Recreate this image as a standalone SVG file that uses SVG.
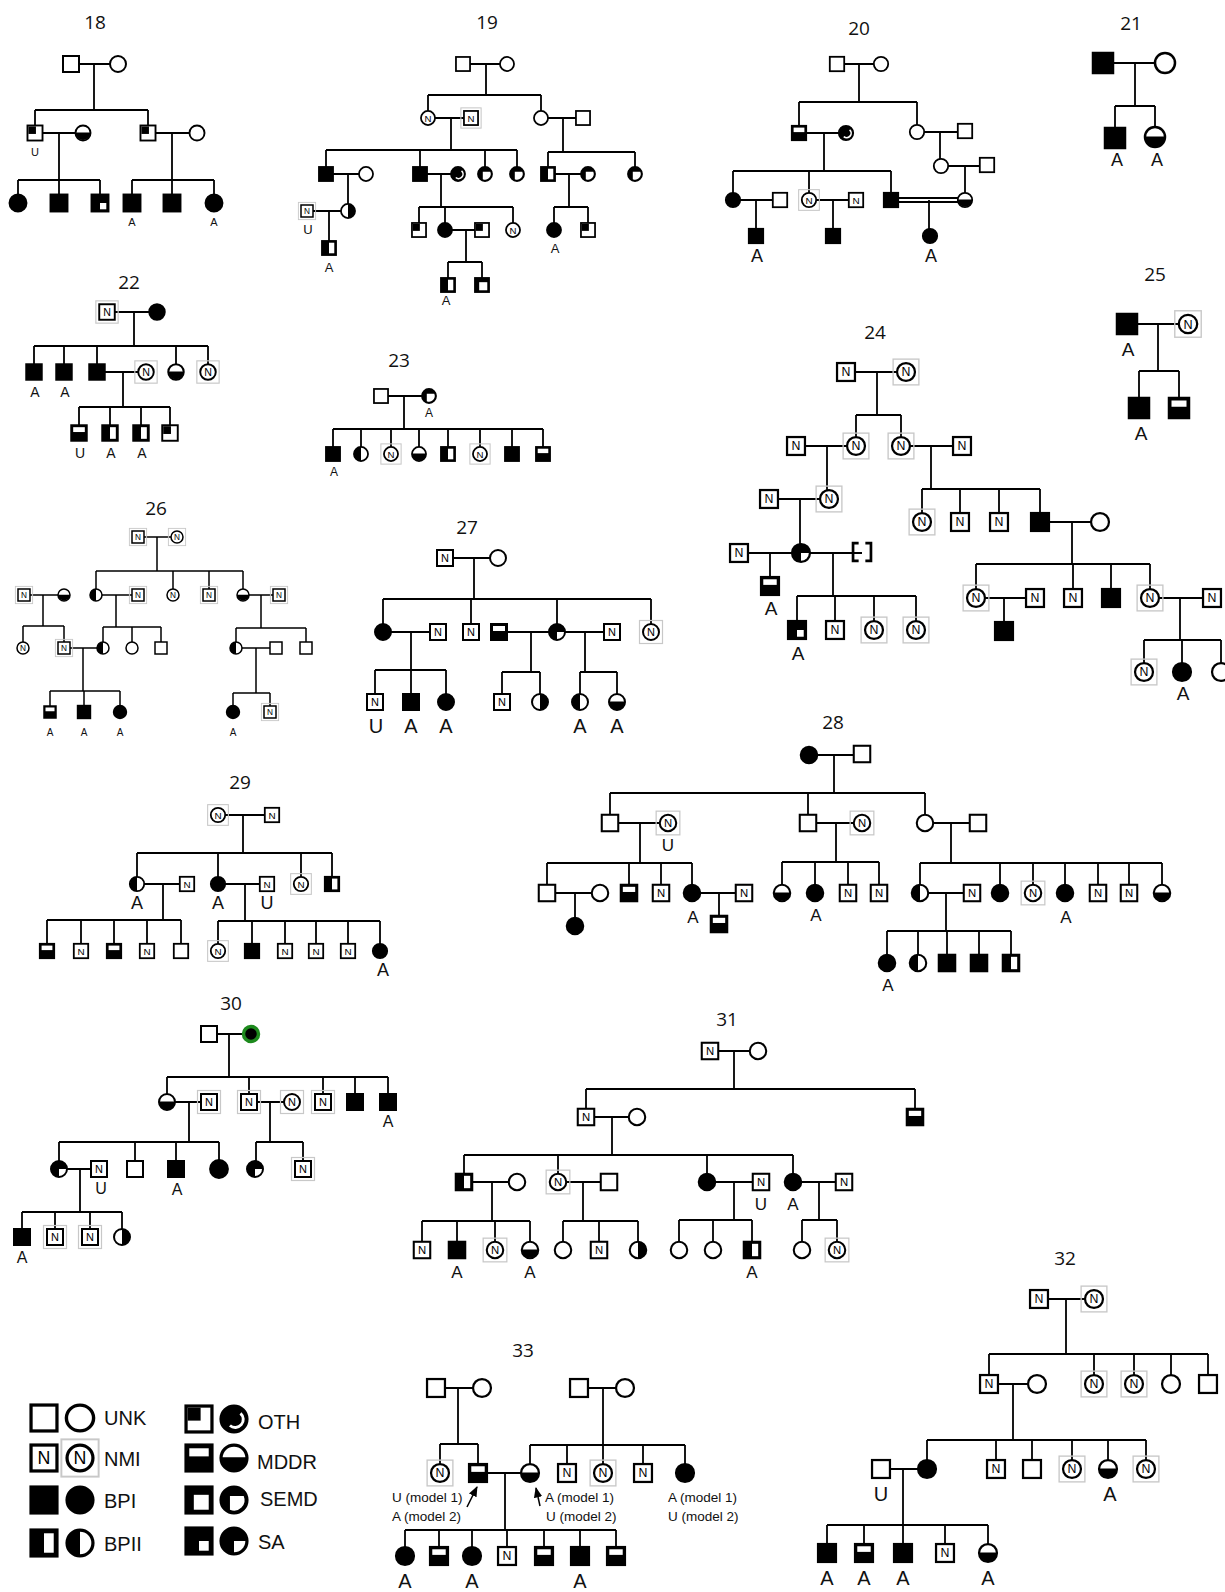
<svg xmlns="http://www.w3.org/2000/svg" width="1225" height="1592" viewBox="0 0 1225 1592">
<style>
.ln{fill:none;stroke:#000;stroke-width:1.8}
.num{font-family:"Open Sans","Noto Sans",sans-serif;font-size:19px;text-anchor:middle;fill:#111}
.nt{font-family:"Liberation Sans",Arial,sans-serif;font-size:11px;text-anchor:middle}
.lb{font-family:"Liberation Sans",Arial,sans-serif;text-anchor:middle;fill:#111}
.f10{font-size:10px}.f11{font-size:11px}.f12{font-size:12px}.f13{font-size:13px}.f14{font-size:14px}.f16{font-size:16px}.f17{font-size:17px}.f18{font-size:18px}.f19{font-size:19px}.f20{font-size:20px}
.lg{font-family:"Liberation Sans",Arial,sans-serif;font-size:20px;fill:#111}
.an{font-family:"Liberation Sans",Arial,sans-serif;font-size:13.5px;fill:#111}
</style>
<defs>
<marker id="ah" viewBox="0 0 10 10" refX="9" refY="5" markerWidth="7" markerHeight="7" orient="auto"><path d="M0,1L10,5L0,9Z"/></marker>
<g id="sq"><rect x="-8" y="-8" width="16" height="16" fill="#fff" stroke="#000" stroke-width="2"/></g>
<g id="sqB"><rect x="-8" y="-8" width="16" height="16" fill="#000" stroke="#000" stroke-width="2"/></g>
<g id="sqN"><use href="#sq"/><text class="nt" y="4">N</text></g>
<g id="sqNg"><rect x="-11.5" y="-11.5" width="23" height="23" fill="none" stroke="#c8c8c8" stroke-width="1.2"/><use href="#sqN"/></g>
<g id="sqBII"><use href="#sqB"/><rect x="0" y="-6" width="6" height="12" fill="#fff"/></g>
<g id="sqMD"><use href="#sqB"/><rect x="-6" y="-6" width="12" height="5" fill="#fff"/></g>
<g id="sqO"><use href="#sq"/><rect x="-7" y="-7" width="8" height="8" fill="#000"/></g>
<g id="sqSE"><use href="#sqB"/><rect x="-3.2" y="-3.2" width="9.2" height="9.2" fill="#fff"/></g>
<g id="sqSA"><use href="#sqB"/><rect x="0" y="0" width="6" height="6" fill="#fff"/></g>
<g id="sqBr"><path d="M-3,-8H-8V8H-3M3,-8H8V8H3" fill="none" stroke="#000" stroke-width="2.4"/></g>
<g id="ci"><circle r="8" fill="#fff" stroke="#000" stroke-width="2"/></g>
<g id="ciB"><circle r="8" fill="#000" stroke="#000" stroke-width="2"/></g>
<g id="ciN"><use href="#ci"/><text class="nt" y="4">N</text></g>
<g id="ciNg"><rect x="-11.5" y="-11.5" width="23" height="23" fill="none" stroke="#c8c8c8" stroke-width="1.2"/><use href="#ciN"/></g>
<g id="ciBII"><use href="#ci"/><path d="M0,-8A8,8 0 0 0 0,8Z"/></g>
<g id="ciBIIr"><use href="#ci"/><path d="M0,-8A8,8 0 0 1 0,8Z"/></g>
<g id="ciMD"><use href="#ci"/><path d="M-8,-0.5A8,8 0 0 0 8,-0.5Z"/></g>
<g id="ciSA"><use href="#ciB"/><path d="M0,0H7A7,7 0 0 1 0,7Z" fill="#fff"/></g>
<g id="ciO"><use href="#ciB"/><path d="M4,-3.5A4.5,4.5 0 0 1 -2.5,4" fill="none" stroke="#fff" stroke-width="1.8"/></g>
<g id="ciSE"><use href="#ciB"/><path d="M-2.5,-2.5H6A6.5,6.5 0 0 1 -2.5,6Z" fill="#fff"/></g>
<g id="ciGr"><circle r="7.5" fill="#000" stroke="#1d8a1d" stroke-width="3.5"/></g>
</defs>
<rect width="1225" height="1592" fill="#fff"/>

<g id="connectors" class="ln">
<path d="M71 64H118M94 64V110M35 110H148M35 110V133M148 110V133M35 133H83M59 133V180M18 180H100M18 180V203M59 180V203M100 180V203M148 133H197M172 133V180M132 180H214M132 180V203M172 180V203M214 180V203"/>
<path d="M463 64H507M486 64V95M428 95H541M428 95V118M541 95V118M428 118H471M451 118V150M326 150H517M326 150V174M420 150V174M485 150V174M517 150V174M541 118H583M563 118V152M548 152H635M548 152V174M635 152V174M326 174H366M348 174V211M307 211H348M329 211V248M420 174H458M441 174V207M419 207H513M419 207V230M445 207V230M513 207V230M445 230H482M466 230V262M448 262H482M448 262V286M482 262V286M548 174H588M569 174V207M554 207H588M554 207V230M588 207V230"/>
<path d="M837 64H881M859 64V102M799 102H917M799 102V133M917 102V132M799 133H846M824 133V171M733 171H891M733 171V200M809 171V200M891 171V200M917 132H965M940 132V166M941 166H987M965 166V200M733 200H780M756 200V236M809 200H856M833 200V236M891 198H965M891 202H965M929 200V236"/>
<path d="M1103 63H1165M1135 63V106M1115 106H1155M1115 106V138M1155 106V137"/>
<path d="M107 312H157M134 312V346M34 346H208M34 346V372M64 346V372M97 346V372M176 346V372M208 346V372M97 372H146M123 372V407M79 407H170M79 407V433M110 407V433M141 407V433M170 407V433"/>
<path d="M381 396H429M404 396V429M333 429H543M333 429V454M361 429V454M391 429V454M419 429V454M448 429V454M480 429V454M512 429V454M543 429V454"/>
<path d="M846 372H906M877 372V415M856 415H901M856 415V446M901 415V446M796 446H856M827 446V499M901 446H962M931 446V489M922 489H1040M922 489V522M960 489V522M999 489V522M1040 489V522M769 499H829M800 499V553M739 553H862M770 553V586M833 553V596M797 596H916M797 596V630M835 596V630M874 596V630M916 596V630M1040 522H1100M1072 522V564M976 564H1150M976 564V598M1073 564V598M1111 564V598M1150 564V598M976 598H1035M1004 598V631M1150 598H1212M1180 598V640M1144 640H1221M1144 640V672M1182 640V672M1221 640V672"/>
<path d="M1127 324H1188M1158 324V371M1139 371H1179M1139 371V408M1179 371V408"/>
<path style="stroke-width:1.5" d="M138 537H177M157 537V571M96 571H243M96 571V595M173 571V595M209 571V595M243 571V595M96 595H138M116 595V627M103 627H161M103 627V648M132 627V648M161 627V648M243 595H279M261 595V628M236 628H306M236 628V648M306 628V648M24 595H64M43 595V626M23 626H64M23 626V648M64 626V648M64 648H103M83 648V691M50 691H120M50 691V712M84 691V712M120 691V712M236 648H276M256 648V693M233 693H270M233 693V712M270 693V712"/>
<path d="M445 558H498M474 558V599M383 599H651M383 599V632M471 599V632M557 599V632M651 599V632M383 632H438M411 632V670M375 670H446M375 670V702M411 670V702M446 670V702M499 632H557M531 632V672M502 672H540M502 672V702M540 672V702M557 632H612M585 632V672M580 672H617M580 672V702M617 672V702"/>
<path d="M809 755H862M834 755V793M610 793H925M610 793V823M808 793V823M925 793V823M610 823H668M640 823V863M547 863H692M547 863V893M629 863V893M661 863V893M692 863V893M808 823H862M836 823V862M782 862H879M782 862V893M815 862V893M848 862V893M879 862V893M925 823H978M951 823V863M920 863H1162M920 863V893M1000 863V893M1033 863V893M1065 863V893M1098 863V893M1129 863V893M1162 863V893M547 893H600M575 893V926M692 893H744M719 893V924M920 893H972M946 893V931M887 931H1011M887 931V963M918 931V963M947 931V963M979 931V963M1011 931V963"/>
<path d="M218 815H272M243 815V853M137 853H332M137 853V884M218 853V884M301 853V884M332 853V884M137 884H187M163 884V920M47 920H181M47 920V951M81 920V951M114 920V951M147 920V951M181 920V951M218 884H267M245 884V921M218 921H380M218 921V951M252 921V951M285 921V951M316 921V951M348 921V951M380 921V951"/>
<path d="M209 1034H251M229 1034V1077M167 1077H388M167 1077V1102M249 1077V1102M323 1077V1102M355 1077V1102M388 1077V1102M167 1102H209M189 1102V1142M59 1142H219M59 1142V1169M135 1142V1169M176 1142V1169M219 1142V1169M249 1102H292M270 1102V1142M256 1142H303M256 1142V1169M303 1142V1169M59 1169H99M80 1169V1212M22 1212H122M22 1212V1237M55 1212V1237M90 1212V1237M122 1212V1237"/>
<path d="M710 1051H758M734 1051V1089M586 1089H915M586 1089V1117M915 1089V1117M586 1117H637M612 1117V1155M464 1155H793M464 1155V1182M558 1155V1182M707 1155V1182M793 1155V1182M464 1182H517M492 1182V1221M422 1221H530M422 1221V1250M457 1221V1250M495 1221V1250M530 1221V1250M558 1182H609M583 1182V1221M563 1221H638M563 1221V1250M599 1221V1250M638 1221V1250M707 1182H761M734 1182V1220M679 1220H752M679 1220V1250M713 1220V1250M752 1220V1250M793 1182H844M819 1182V1220M802 1220H837M802 1220V1250M837 1220V1250"/>
<path d="M1039 1299H1094M1066 1299V1354M989 1354H1208M989 1354V1384M1094 1354V1384M1134 1354V1384M1171 1354V1384M1208 1354V1384M989 1384H1037M1013 1384V1440M927 1440H1146M927 1440V1469M996 1440V1469M1032 1440V1469M1072 1440V1469M1108 1440V1469M1146 1440V1469M881 1469H927M903 1469V1525M827 1525H988M827 1525V1553M864 1525V1553M903 1525V1553M945 1525V1553M988 1525V1553"/>
<path d="M436 1388H482M458 1388V1444M440 1444H478M440 1444V1473M478 1444V1473M579 1388H625M603 1388V1445M530 1445H685M530 1445V1473M567 1445V1473M603 1445V1473M643 1445V1473M685 1445V1473M478 1473H530M505 1473V1530M405 1530H616M405 1530V1556M439 1530V1556M472 1530V1556M507 1530V1556M544 1530V1556M580 1530V1556M616 1530V1556"/>
<path style="stroke-width:1.5" marker-end="url(#ah)" d="M467 1507L477 1487"/>
<path style="stroke-width:1.5" marker-end="url(#ah)" d="M540 1506L536 1488"/>
</g>

<g id="ped18">
<text class="num" x="95" y="29">18</text>
<g id="n18-1" transform="translate(71 64)"><use href="#sq"/></g>
<g id="n18-2" transform="translate(118 64)"><use href="#ci"/></g>
<g id="n18-3" transform="translate(35 133) scale(.94)"><use href="#sqO"/></g>
<g id="n18-4" transform="translate(83 133) scale(.94)"><use href="#ciMD"/></g>
<g id="n18-5" transform="translate(148 133) scale(.94)"><use href="#sqO"/></g>
<g id="n18-6" transform="translate(197 133) scale(.94)"><use href="#ci"/></g>
<g id="n18-7" transform="translate(18 203) scale(1.05)"><use href="#ciB"/></g>
<g id="n18-8" transform="translate(59 203) scale(1.05)"><use href="#sqB"/></g>
<g id="n18-9" transform="translate(100 203) scale(1.05)"><use href="#sqSA"/></g>
<g id="n18-10" transform="translate(132 203) scale(1.05)"><use href="#sqB"/></g>
<g id="n18-11" transform="translate(172 203) scale(1.05)"><use href="#sqB"/></g>
<g id="n18-12" transform="translate(214 203) scale(1.05)"><use href="#ciB"/></g>
<text class="lb f11" x="35" y="156">U</text>
<text class="lb f11" x="132" y="226">A</text>
<text class="lb f11" x="214" y="226">A</text>
</g>

<g id="ped19">
<text class="num" x="487" y="29">19</text>
<g id="n19-1" transform="translate(463 64) scale(.88)"><use href="#sq"/></g>
<g id="n19-2" transform="translate(507 64) scale(.88)"><use href="#ci"/></g>
<g id="n19-3" transform="translate(428 118) scale(.88)"><use href="#ciN"/></g>
<g id="n19-4" transform="translate(471 118) scale(.88)"><use href="#sqNg"/></g>
<g id="n19-5" transform="translate(541 118) scale(.88)"><use href="#ci"/></g>
<g id="n19-6" transform="translate(583 118) scale(.88)"><use href="#sq"/></g>
<g id="n19-7" transform="translate(326 174) scale(.88)"><use href="#sqB"/></g>
<g id="n19-8" transform="translate(366 174) scale(.88)"><use href="#ci"/></g>
<g id="n19-9" transform="translate(420 174) scale(.88)"><use href="#sqB"/></g>
<g id="n19-10" transform="translate(458 174) scale(.88)"><use href="#ciO"/></g>
<g id="n19-11" transform="translate(485 174) scale(.88)"><use href="#ciSE"/></g>
<g id="n19-12" transform="translate(517 174) scale(.88)"><use href="#ciSE"/></g>
<g id="n19-13" transform="translate(548 174) scale(.88)"><use href="#sqBII"/></g>
<g id="n19-14" transform="translate(588 174) scale(.88)"><use href="#ciSE"/></g>
<g id="n19-15" transform="translate(635 174) scale(.88)"><use href="#ciSE"/></g>
<g id="n19-16" transform="translate(348 211) scale(.88)"><use href="#ciBIIr"/></g>
<g id="n19-17" transform="translate(307 211) scale(.75)"><use href="#sqNg"/></g>
<g id="n19-18" transform="translate(329 248) scale(.88)"><use href="#sqBII"/></g>
<g id="n19-19" transform="translate(419 230) scale(.88)"><use href="#sqO"/></g>
<g id="n19-20" transform="translate(445 230) scale(.88)"><use href="#ciB"/></g>
<g id="n19-21" transform="translate(482 230) scale(.88)"><use href="#sqO"/></g>
<g id="n19-22" transform="translate(513 230) scale(.88)"><use href="#ciN"/></g>
<g id="n19-23" transform="translate(448 285) scale(.88)"><use href="#sqBII"/></g>
<g id="n19-24" transform="translate(482 285) scale(.88)"><use href="#sqSE"/></g>
<g id="n19-25" transform="translate(554 230) scale(.88)"><use href="#ciB"/></g>
<g id="n19-26" transform="translate(588 230) scale(.88)"><use href="#sqO"/></g>
<text class="lb f13" x="308" y="234">U</text>
<text class="lb f13" x="329" y="272">A</text>
<text class="lb f13" x="446" y="305">A</text>
<text class="lb f13" x="555" y="253">A</text>
</g>

<g id="ped20">
<text class="num" x="859" y="35">20</text>
<g id="n20-1" transform="translate(837 64) scale(.9)"><use href="#sq"/></g>
<g id="n20-2" transform="translate(881 64) scale(.9)"><use href="#ci"/></g>
<g id="n20-3" transform="translate(799 133) scale(.9)"><use href="#sqMD"/></g>
<g id="n20-4" transform="translate(846 133) scale(.9)"><use href="#ciO"/></g>
<g id="n20-5" transform="translate(917 132) scale(.9)"><use href="#ci"/></g>
<g id="n20-6" transform="translate(965 131) scale(.9)"><use href="#sq"/></g>
<g id="n20-7" transform="translate(941 166) scale(.9)"><use href="#ci"/></g>
<g id="n20-8" transform="translate(987 165) scale(.9)"><use href="#sq"/></g>
<g id="n20-9" transform="translate(965 200) scale(.9)"><use href="#ciMD"/></g>
<g id="n20-10" transform="translate(733 200) scale(.9)"><use href="#ciB"/></g>
<g id="n20-11" transform="translate(780 200) scale(.9)"><use href="#sq"/></g>
<g id="n20-12" transform="translate(756 236) scale(.9)"><use href="#sqB"/></g>
<g id="n20-13" transform="translate(809 200) scale(.9)"><use href="#ciNg"/></g>
<g id="n20-14" transform="translate(856 200) scale(.9)"><use href="#sqN"/></g>
<g id="n20-15" transform="translate(833 236) scale(.9)"><use href="#sqB"/></g>
<g id="n20-16" transform="translate(891 200) scale(.9)"><use href="#sqB"/></g>
<g id="n20-17" transform="translate(930 236) scale(.9)"><use href="#ciB"/></g>
<text class="lb f18" x="757" y="262">A</text>
<text class="lb f18" x="931" y="262">A</text>
</g>

<g id="ped21">
<text class="num" x="1131" y="30">21</text>
<g id="n21-1" transform="translate(1103 63) scale(1.25)"><use href="#sqB"/></g>
<g id="n21-2" transform="translate(1165 63) scale(1.25)"><use href="#ci"/></g>
<g id="n21-3" transform="translate(1115 138) scale(1.25)"><use href="#sqB"/></g>
<g id="n21-4" transform="translate(1155 137) scale(1.25)"><use href="#ciMD"/></g>
<text class="lb f18" x="1117" y="166">A</text>
<text class="lb f18" x="1157" y="166">A</text>
</g>

<g id="ped22">
<text class="num" x="129" y="289">22</text>
<g id="n22-1" transform="translate(107 312) scale(.97)"><use href="#sqNg"/></g>
<g id="n22-2" transform="translate(157 312) scale(.97)"><use href="#ciB"/></g>
<g id="n22-3" transform="translate(34 372) scale(.97)"><use href="#sqB"/></g>
<g id="n22-4" transform="translate(64 372) scale(.97)"><use href="#sqB"/></g>
<g id="n22-5" transform="translate(97 372) scale(.97)"><use href="#sqB"/></g>
<g id="n22-6" transform="translate(146 372) scale(.97)"><use href="#ciNg"/></g>
<g id="n22-7" transform="translate(176 372) scale(.97)"><use href="#ciMD"/></g>
<g id="n22-8" transform="translate(208 372) scale(.97)"><use href="#ciNg"/></g>
<g id="n22-9" transform="translate(79 433) scale(.97)"><use href="#sqMD"/></g>
<g id="n22-10" transform="translate(110 433) scale(.97)"><use href="#sqBII"/></g>
<g id="n22-11" transform="translate(141 433) scale(.97)"><use href="#sqBII"/></g>
<g id="n22-12" transform="translate(170 433) scale(.97)"><use href="#sqO"/></g>
<text class="lb f14" x="35" y="397">A</text>
<text class="lb f14" x="65" y="397">A</text>
<text class="lb f14" x="80" y="458">U</text>
<text class="lb f14" x="111" y="458">A</text>
<text class="lb f14" x="142" y="458">A</text>
</g>

<g id="ped23">
<text class="num" x="399" y="367">23</text>
<g id="n23-1" transform="translate(381 396) scale(.88)"><use href="#sq"/></g>
<g id="n23-2" transform="translate(429 396) scale(.88)"><use href="#ciSE"/></g>
<g id="n23-3" transform="translate(333 454) scale(.88)"><use href="#sqB"/></g>
<g id="n23-4" transform="translate(361 454) scale(.88)"><use href="#ciBII"/></g>
<g id="n23-5" transform="translate(391 454) scale(.88)"><use href="#ciNg"/></g>
<g id="n23-6" transform="translate(419 454) scale(.88)"><use href="#ciMD"/></g>
<g id="n23-7" transform="translate(448 454) scale(.88)"><use href="#sqBII"/></g>
<g id="n23-8" transform="translate(480 454) scale(.88)"><use href="#ciNg"/></g>
<g id="n23-9" transform="translate(512 454) scale(.88)"><use href="#sqB"/></g>
<g id="n23-10" transform="translate(543 454) scale(.88)"><use href="#sqMD"/></g>
<text class="lb f12" x="429" y="417">A</text>
<text class="lb f12" x="334" y="476">A</text>
</g>

<g id="ped24">
<text class="num" x="875" y="339">24</text>
<g id="n24-1" transform="translate(846 372) scale(1.12)"><use href="#sqN"/></g>
<g id="n24-2" transform="translate(906 372) scale(1.12)"><use href="#ciNg"/></g>
<g id="n24-3" transform="translate(796 446) scale(1.12)"><use href="#sqN"/></g>
<g id="n24-4" transform="translate(856 446) scale(1.12)"><use href="#ciNg"/></g>
<g id="n24-5" transform="translate(901 446) scale(1.12)"><use href="#ciNg"/></g>
<g id="n24-6" transform="translate(962 446) scale(1.12)"><use href="#sqN"/></g>
<g id="n24-7" transform="translate(769 499) scale(1.12)"><use href="#sqN"/></g>
<g id="n24-8" transform="translate(829 499) scale(1.12)"><use href="#ciNg"/></g>
<g id="n24-9" transform="translate(739 553) scale(1.12)"><use href="#sqN"/></g>
<g id="n24-10" transform="translate(801 553) scale(1.12)"><use href="#ciSA"/></g>
<g id="n24-11" transform="translate(862 552) scale(1.12)"><use href="#sqBr"/></g>
<g id="n24-12" transform="translate(770 586) scale(1.12)"><use href="#sqMD"/></g>
<g id="n24-13" transform="translate(797 630) scale(1.12)"><use href="#sqSA"/></g>
<g id="n24-14" transform="translate(835 630) scale(1.12)"><use href="#sqN"/></g>
<g id="n24-15" transform="translate(874 630) scale(1.12)"><use href="#ciNg"/></g>
<g id="n24-16" transform="translate(916 630) scale(1.12)"><use href="#ciNg"/></g>
<g id="n24-17" transform="translate(922 522) scale(1.12)"><use href="#ciNg"/></g>
<g id="n24-18" transform="translate(960 522) scale(1.12)"><use href="#sqN"/></g>
<g id="n24-19" transform="translate(999 522) scale(1.12)"><use href="#sqN"/></g>
<g id="n24-20" transform="translate(1040 522) scale(1.12)"><use href="#sqB"/></g>
<g id="n24-21" transform="translate(1100 522) scale(1.12)"><use href="#ci"/></g>
<g id="n24-22" transform="translate(976 598) scale(1.12)"><use href="#ciNg"/></g>
<g id="n24-23" transform="translate(1035 598) scale(1.12)"><use href="#sqN"/></g>
<g id="n24-24" transform="translate(1004 631) scale(1.12)"><use href="#sqB"/></g>
<g id="n24-25" transform="translate(1073 598) scale(1.12)"><use href="#sqN"/></g>
<g id="n24-26" transform="translate(1111 598) scale(1.12)"><use href="#sqB"/></g>
<g id="n24-27" transform="translate(1150 598) scale(1.12)"><use href="#ciNg"/></g>
<g id="n24-28" transform="translate(1212 598) scale(1.12)"><use href="#sqN"/></g>
<g id="n24-29" transform="translate(1144 672) scale(1.12)"><use href="#ciNg"/></g>
<g id="n24-30" transform="translate(1182 672) scale(1.12)"><use href="#ciB"/></g>
<g id="n24-31" transform="translate(1221 672) scale(1.12)"><use href="#ci"/></g>
<text class="lb f19" x="771" y="615">A</text>
<text class="lb f19" x="798" y="660">A</text>
<text class="lb f19" x="1183" y="700">A</text>
</g>

<g id="ped25">
<text class="num" x="1155" y="281">25</text>
<g id="n25-1" transform="translate(1127 324) scale(1.25)"><use href="#sqB"/></g>
<g id="n25-2" transform="translate(1188 324) scale(1.15)"><use href="#ciNg"/></g>
<g id="n25-3" transform="translate(1139 408) scale(1.25)"><use href="#sqB"/></g>
<g id="n25-4" transform="translate(1179 408) scale(1.25)"><use href="#sqMD"/></g>
<text class="lb f19" x="1128" y="356">A</text>
<text class="lb f19" x="1141" y="440">A</text>
</g>

<g id="ped26">
<text class="num" x="156" y="515">26</text>
<g id="n26-1" transform="translate(138 537) scale(.75)"><use href="#sqNg"/></g>
<g id="n26-2" transform="translate(177 537) scale(.75)"><use href="#ciNg"/></g>
<g id="n26-3" transform="translate(24 595) scale(.75)"><use href="#sqNg"/></g>
<g id="n26-4" transform="translate(64 595) scale(.75)"><use href="#ciMD"/></g>
<g id="n26-5" transform="translate(96 595) scale(.75)"><use href="#ciBII"/></g>
<g id="n26-6" transform="translate(138 595) scale(.75)"><use href="#sqNg"/></g>
<g id="n26-7" transform="translate(173 595) scale(.75)"><use href="#ciN"/></g>
<g id="n26-8" transform="translate(209 595) scale(.75)"><use href="#sqNg"/></g>
<g id="n26-9" transform="translate(243 595) scale(.75)"><use href="#ciMD"/></g>
<g id="n26-10" transform="translate(279 595) scale(.75)"><use href="#sqNg"/></g>
<g id="n26-11" transform="translate(23 648) scale(.75)"><use href="#ciN"/></g>
<g id="n26-12" transform="translate(64 648) scale(.75)"><use href="#sqNg"/></g>
<g id="n26-13" transform="translate(103 648) scale(.75)"><use href="#ciBII"/></g>
<g id="n26-14" transform="translate(132 648) scale(.75)"><use href="#ci"/></g>
<g id="n26-15" transform="translate(161 648) scale(.75)"><use href="#sq"/></g>
<g id="n26-16" transform="translate(236 648) scale(.75)"><use href="#ciBII"/></g>
<g id="n26-17" transform="translate(276 648) scale(.75)"><use href="#sq"/></g>
<g id="n26-18" transform="translate(306 648) scale(.75)"><use href="#sq"/></g>
<g id="n26-19" transform="translate(50 712) scale(.75)"><use href="#sqMD"/></g>
<g id="n26-20" transform="translate(84 712) scale(.8)"><use href="#sqB"/></g>
<g id="n26-21" transform="translate(120 712) scale(.8)"><use href="#ciB"/></g>
<g id="n26-22" transform="translate(233 712) scale(.8)"><use href="#ciB"/></g>
<g id="n26-23" transform="translate(270 712) scale(.75)"><use href="#sqNg"/></g>
<text class="lb f10" x="50" y="736">A</text>
<text class="lb f10" x="84" y="736">A</text>
<text class="lb f10" x="120" y="736">A</text>
<text class="lb f10" x="233" y="736">A</text>
</g>

<g id="ped27">
<text class="num" x="467" y="534">27</text>
<g id="n27-1" transform="translate(445 558)"><use href="#sqN"/></g>
<g id="n27-2" transform="translate(498 558)"><use href="#ci"/></g>
<g id="n27-3" transform="translate(383 632)"><use href="#ciB"/></g>
<g id="n27-4" transform="translate(438 632)"><use href="#sqN"/></g>
<g id="n27-5" transform="translate(471 632)"><use href="#sqN"/></g>
<g id="n27-6" transform="translate(499 632)"><use href="#sqMD"/></g>
<g id="n27-7" transform="translate(557 632)"><use href="#ciSA"/></g>
<g id="n27-8" transform="translate(612 632)"><use href="#sqN"/></g>
<g id="n27-9" transform="translate(651 632)"><use href="#ciNg"/></g>
<g id="n27-10" transform="translate(375 702)"><use href="#sqN"/></g>
<g id="n27-11" transform="translate(411 702)"><use href="#sqB"/></g>
<g id="n27-12" transform="translate(446 702)"><use href="#ciB"/></g>
<g id="n27-13" transform="translate(502 702)"><use href="#sqN"/></g>
<g id="n27-14" transform="translate(540 702)"><use href="#ciBIIr"/></g>
<g id="n27-15" transform="translate(580 702)"><use href="#ciBII"/></g>
<g id="n27-16" transform="translate(617 702)"><use href="#ciMD"/></g>
<text class="lb f20" x="376" y="733">U</text>
<text class="lb f20" x="411" y="733">A</text>
<text class="lb f20" x="446" y="733">A</text>
<text class="lb f20" x="580" y="733">A</text>
<text class="lb f20" x="617" y="733">A</text>
</g>

<g id="ped28">
<text class="num" x="833" y="729">28</text>
<g id="n28-1" transform="translate(809 755) scale(1.03)"><use href="#ciB"/></g>
<g id="n28-2" transform="translate(862 754) scale(1.03)"><use href="#sq"/></g>
<g id="n28-3" transform="translate(610 823) scale(1.03)"><use href="#sq"/></g>
<g id="n28-4" transform="translate(668 823) scale(1.03)"><use href="#ciNg"/></g>
<g id="n28-5" transform="translate(808 823) scale(1.03)"><use href="#sq"/></g>
<g id="n28-6" transform="translate(862 823) scale(1.03)"><use href="#ciNg"/></g>
<g id="n28-7" transform="translate(925 823) scale(1.03)"><use href="#ci"/></g>
<g id="n28-8" transform="translate(978 823) scale(1.03)"><use href="#sq"/></g>
<g id="n28-9" transform="translate(547 893) scale(1.03)"><use href="#sq"/></g>
<g id="n28-10" transform="translate(600 893) scale(1.03)"><use href="#ci"/></g>
<g id="n28-11" transform="translate(575 926) scale(1.03)"><use href="#ciB"/></g>
<g id="n28-12" transform="translate(629 893) scale(1.03)"><use href="#sqMD"/></g>
<g id="n28-13" transform="translate(661 893) scale(1.03)"><use href="#sqN"/></g>
<g id="n28-14" transform="translate(692 893) scale(1.03)"><use href="#ciB"/></g>
<g id="n28-15" transform="translate(744 893) scale(1.03)"><use href="#sqN"/></g>
<g id="n28-16" transform="translate(719 924) scale(1.03)"><use href="#sqMD"/></g>
<g id="n28-17" transform="translate(782 893) scale(1.03)"><use href="#ciMD"/></g>
<g id="n28-18" transform="translate(815 893) scale(1.03)"><use href="#ciB"/></g>
<g id="n28-19" transform="translate(848 893) scale(1.03)"><use href="#sqN"/></g>
<g id="n28-20" transform="translate(879 893) scale(1.03)"><use href="#sqN"/></g>
<g id="n28-21" transform="translate(920 893) scale(1.03)"><use href="#ciBII"/></g>
<g id="n28-22" transform="translate(972 893) scale(1.03)"><use href="#sqN"/></g>
<g id="n28-23" transform="translate(1000 893) scale(1.03)"><use href="#ciB"/></g>
<g id="n28-24" transform="translate(1033 893) scale(1.03)"><use href="#ciNg"/></g>
<g id="n28-25" transform="translate(1065 893) scale(1.03)"><use href="#ciB"/></g>
<g id="n28-26" transform="translate(1098 893) scale(1.03)"><use href="#sqN"/></g>
<g id="n28-27" transform="translate(1129 893) scale(1.03)"><use href="#sqN"/></g>
<g id="n28-28" transform="translate(1162 893) scale(1.03)"><use href="#ciMD"/></g>
<g id="n28-29" transform="translate(887 963) scale(1.03)"><use href="#ciB"/></g>
<g id="n28-30" transform="translate(918 963) scale(1.03)"><use href="#ciBII"/></g>
<g id="n28-31" transform="translate(947 963) scale(1.03)"><use href="#sqB"/></g>
<g id="n28-32" transform="translate(979 963) scale(1.03)"><use href="#sqB"/></g>
<g id="n28-33" transform="translate(1011 963) scale(1.03)"><use href="#sqBII"/></g>
<text class="lb f17" x="668" y="851">U</text>
<text class="lb f17" x="693" y="923">A</text>
<text class="lb f17" x="816" y="921">A</text>
<text class="lb f17" x="1066" y="923">A</text>
<text class="lb f17" x="888" y="991">A</text>
</g>

<g id="ped29">
<text class="num" x="240" y="789">29</text>
<g id="n29-1" transform="translate(218 815) scale(.9)"><use href="#ciNg"/></g>
<g id="n29-2" transform="translate(272 815) scale(.9)"><use href="#sqN"/></g>
<g id="n29-3" transform="translate(137 884) scale(.9)"><use href="#ciBII"/></g>
<g id="n29-4" transform="translate(187 884) scale(.9)"><use href="#sqN"/></g>
<g id="n29-5" transform="translate(218 884) scale(.9)"><use href="#ciB"/></g>
<g id="n29-6" transform="translate(267 884) scale(.9)"><use href="#sqN"/></g>
<g id="n29-7" transform="translate(301 884) scale(.9)"><use href="#ciNg"/></g>
<g id="n29-8" transform="translate(332 884) scale(.9)"><use href="#sqBII"/></g>
<g id="n29-9" transform="translate(47 951) scale(.9)"><use href="#sqMD"/></g>
<g id="n29-10" transform="translate(81 951) scale(.9)"><use href="#sqN"/></g>
<g id="n29-11" transform="translate(114 951) scale(.9)"><use href="#sqMD"/></g>
<g id="n29-12" transform="translate(147 951) scale(.9)"><use href="#sqN"/></g>
<g id="n29-13" transform="translate(181 951) scale(.9)"><use href="#sq"/></g>
<g id="n29-14" transform="translate(218 951) scale(.9)"><use href="#ciNg"/></g>
<g id="n29-15" transform="translate(252 951) scale(.9)"><use href="#sqB"/></g>
<g id="n29-16" transform="translate(285 951) scale(.9)"><use href="#sqN"/></g>
<g id="n29-17" transform="translate(316 951) scale(.9)"><use href="#sqN"/></g>
<g id="n29-18" transform="translate(348 951) scale(.9)"><use href="#sqN"/></g>
<g id="n29-19" transform="translate(380 951) scale(.9)"><use href="#ciB"/></g>
<text class="lb f18" x="137" y="909">A</text>
<text class="lb f18" x="218" y="909">A</text>
<text class="lb f18" x="267" y="909">U</text>
<text class="lb f18" x="383" y="976">A</text>
</g>

<g id="ped30">
<text class="num" x="231" y="1010">30</text>
<g id="n30-1" transform="translate(209 1034)"><use href="#sq"/></g>
<g id="n30-2" transform="translate(251 1034)"><use href="#ciGr"/></g>
<g id="n30-3" transform="translate(167 1102)"><use href="#ciMD"/></g>
<g id="n30-4" transform="translate(209 1102)"><use href="#sqNg"/></g>
<g id="n30-5" transform="translate(249 1102)"><use href="#sqNg"/></g>
<g id="n30-6" transform="translate(292 1102)"><use href="#ciNg"/></g>
<g id="n30-7" transform="translate(323 1102)"><use href="#sqNg"/></g>
<g id="n30-8" transform="translate(355 1102)"><use href="#sqB"/></g>
<g id="n30-9" transform="translate(388 1102)"><use href="#sqB"/></g>
<g id="n30-10" transform="translate(59 1169)"><use href="#ciSA"/></g>
<g id="n30-11" transform="translate(99 1169)"><use href="#sqN"/></g>
<g id="n30-12" transform="translate(135 1169)"><use href="#sq"/></g>
<g id="n30-13" transform="translate(176 1169)"><use href="#sqB"/></g>
<g id="n30-14" transform="translate(219 1169) scale(1.1)"><use href="#ciB"/></g>
<g id="n30-15" transform="translate(255 1169)"><use href="#ciSA"/></g>
<g id="n30-16" transform="translate(303 1169)"><use href="#sqNg"/></g>
<g id="n30-17" transform="translate(22 1237)"><use href="#sqB"/></g>
<g id="n30-18" transform="translate(55 1237)"><use href="#sqNg"/></g>
<g id="n30-19" transform="translate(90 1237)"><use href="#sqNg"/></g>
<g id="n30-20" transform="translate(122 1237)"><use href="#ciBIIr"/></g>
<text class="lb f16" x="388" y="1127">A</text>
<text class="lb f16" x="101" y="1194">U</text>
<text class="lb f16" x="177" y="1195">A</text>
<text class="lb f16" x="22" y="1263">A</text>
</g>

<g id="ped31">
<text class="num" x="727" y="1026">31</text>
<g id="n31-1" transform="translate(710 1051) scale(1.03)"><use href="#sqN"/></g>
<g id="n31-2" transform="translate(758 1051) scale(1.03)"><use href="#ci"/></g>
<g id="n31-3" transform="translate(586 1117) scale(1.03)"><use href="#sqN"/></g>
<g id="n31-4" transform="translate(637 1117) scale(1.03)"><use href="#ci"/></g>
<g id="n31-5" transform="translate(915 1117) scale(1.03)"><use href="#sqMD"/></g>
<g id="n31-6" transform="translate(464 1182) scale(1.03)"><use href="#sqBII"/></g>
<g id="n31-7" transform="translate(517 1182) scale(1.03)"><use href="#ci"/></g>
<g id="n31-8" transform="translate(558 1182) scale(1.03)"><use href="#ciNg"/></g>
<g id="n31-9" transform="translate(609 1182) scale(1.03)"><use href="#sq"/></g>
<g id="n31-10" transform="translate(707 1182) scale(1.03)"><use href="#ciB"/></g>
<g id="n31-11" transform="translate(761 1182) scale(1.03)"><use href="#sqN"/></g>
<g id="n31-12" transform="translate(793 1182) scale(1.03)"><use href="#ciB"/></g>
<g id="n31-13" transform="translate(844 1182) scale(1.03)"><use href="#sqN"/></g>
<g id="n31-14" transform="translate(422 1250) scale(1.03)"><use href="#sqN"/></g>
<g id="n31-15" transform="translate(457 1250) scale(1.03)"><use href="#sqB"/></g>
<g id="n31-16" transform="translate(495 1250) scale(1.03)"><use href="#ciNg"/></g>
<g id="n31-17" transform="translate(530 1250) scale(1.03)"><use href="#ciMD"/></g>
<g id="n31-18" transform="translate(563 1250) scale(1.03)"><use href="#ci"/></g>
<g id="n31-19" transform="translate(599 1250) scale(1.03)"><use href="#sqN"/></g>
<g id="n31-20" transform="translate(638 1250) scale(1.03)"><use href="#ciBIIr"/></g>
<g id="n31-21" transform="translate(679 1250) scale(1.03)"><use href="#ci"/></g>
<g id="n31-22" transform="translate(713 1250) scale(1.03)"><use href="#ci"/></g>
<g id="n31-23" transform="translate(752 1250) scale(1.03)"><use href="#sqBII"/></g>
<g id="n31-24" transform="translate(802 1250) scale(1.03)"><use href="#ci"/></g>
<g id="n31-25" transform="translate(837 1250) scale(1.03)"><use href="#ciNg"/></g>
<text class="lb f17" x="761" y="1210">U</text>
<text class="lb f17" x="793" y="1210">A</text>
<text class="lb f17" x="457" y="1278">A</text>
<text class="lb f17" x="530" y="1278">A</text>
<text class="lb f17" x="752" y="1278">A</text>
</g>

<g id="ped32">
<text class="num" x="1065" y="1265">32</text>
<g id="n32-1" transform="translate(1039 1299) scale(1.12)"><use href="#sqN"/></g>
<g id="n32-2" transform="translate(1094 1299) scale(1.12)"><use href="#ciNg"/></g>
<g id="n32-3" transform="translate(989 1384) scale(1.12)"><use href="#sqN"/></g>
<g id="n32-4" transform="translate(1037 1384) scale(1.12)"><use href="#ci"/></g>
<g id="n32-5" transform="translate(1094 1384) scale(1.12)"><use href="#ciNg"/></g>
<g id="n32-6" transform="translate(1134 1384) scale(1.12)"><use href="#ciNg"/></g>
<g id="n32-7" transform="translate(1171 1384) scale(1.12)"><use href="#ci"/></g>
<g id="n32-8" transform="translate(1208 1384) scale(1.12)"><use href="#sq"/></g>
<g id="n32-9" transform="translate(881 1469) scale(1.12)"><use href="#sq"/></g>
<g id="n32-10" transform="translate(927 1469) scale(1.12)"><use href="#ciB"/></g>
<g id="n32-11" transform="translate(996 1469) scale(1.12)"><use href="#sqN"/></g>
<g id="n32-12" transform="translate(1032 1469) scale(1.12)"><use href="#sq"/></g>
<g id="n32-13" transform="translate(1072 1469) scale(1.12)"><use href="#ciNg"/></g>
<g id="n32-14" transform="translate(1108 1469) scale(1.12)"><use href="#ciMD"/></g>
<g id="n32-15" transform="translate(1146 1469) scale(1.12)"><use href="#ciNg"/></g>
<g id="n32-16" transform="translate(827 1553) scale(1.12)"><use href="#sqB"/></g>
<g id="n32-17" transform="translate(864 1553) scale(1.12)"><use href="#sqMD"/></g>
<g id="n32-18" transform="translate(903 1553) scale(1.12)"><use href="#sqB"/></g>
<g id="n32-19" transform="translate(945 1553) scale(1.12)"><use href="#sqN"/></g>
<g id="n32-20" transform="translate(988 1553) scale(1.12)"><use href="#ciMD"/></g>
<text class="lb f20" x="881" y="1501">U</text>
<text class="lb f20" x="1110" y="1501">A</text>
<text class="lb f20" x="827" y="1585">A</text>
<text class="lb f20" x="864" y="1585">A</text>
<text class="lb f20" x="903" y="1585">A</text>
<text class="lb f20" x="988" y="1585">A</text>
</g>

<g id="ped33">
<text class="num" x="523" y="1357">33</text>
<g id="n33-1" transform="translate(436 1388) scale(1.12)"><use href="#sq"/></g>
<g id="n33-2" transform="translate(482 1388) scale(1.12)"><use href="#ci"/></g>
<g id="n33-3" transform="translate(579 1388) scale(1.12)"><use href="#sq"/></g>
<g id="n33-4" transform="translate(625 1388) scale(1.12)"><use href="#ci"/></g>
<g id="n33-5" transform="translate(440 1473) scale(1.12)"><use href="#ciNg"/></g>
<g id="n33-6" transform="translate(478 1473) scale(1.12)"><use href="#sqMD"/></g>
<g id="n33-7" transform="translate(530 1473) scale(1.12)"><use href="#ciMD"/></g>
<g id="n33-8" transform="translate(567 1473) scale(1.12)"><use href="#sqN"/></g>
<g id="n33-9" transform="translate(603 1473) scale(1.12)"><use href="#ciNg"/></g>
<g id="n33-10" transform="translate(643 1473) scale(1.12)"><use href="#sqN"/></g>
<g id="n33-11" transform="translate(685 1473) scale(1.12)"><use href="#ciB"/></g>
<g id="n33-12" transform="translate(405 1556) scale(1.12)"><use href="#ciB"/></g>
<g id="n33-13" transform="translate(439 1556) scale(1.12)"><use href="#sqMD"/></g>
<g id="n33-14" transform="translate(472 1556) scale(1.12)"><use href="#ciB"/></g>
<g id="n33-15" transform="translate(507 1556) scale(1.12)"><use href="#sqN"/></g>
<g id="n33-16" transform="translate(544 1556) scale(1.12)"><use href="#sqMD"/></g>
<g id="n33-17" transform="translate(580 1556) scale(1.12)"><use href="#sqB"/></g>
<g id="n33-18" transform="translate(616 1556) scale(1.12)"><use href="#sqMD"/></g>
<text class="lb f20" x="405" y="1588">A</text>
<text class="lb f20" x="472" y="1588">A</text>
<text class="lb f20" x="580" y="1588">A</text>
<text class="an" x="392" y="1502">U (model 1)</text>
<text class="an" x="392" y="1521">A (model 2)</text>
<text class="an" x="545" y="1502">A (model 1)</text>
<text class="an" x="546" y="1521">U (model 2)</text>
<text class="an" x="668" y="1502">A (model 1)</text>
<text class="an" x="668" y="1521">U (model 2)</text>
</g>

<g id="legend">
<g id="lg-1" transform="translate(44 1418) scale(1.62)"><use href="#sq"/></g>
<g id="lg-2" transform="translate(80 1418) scale(1.7 1.62)"><use href="#ci"/></g>
<g id="lg-3" transform="translate(44 1458) scale(1.62)"><use href="#sqN"/></g>
<g id="lg-4" transform="translate(80 1458) scale(1.62)"><use href="#ciNg"/></g>
<g id="lg-5" transform="translate(44 1500) scale(1.62)"><use href="#sqB"/></g>
<g id="lg-6" transform="translate(80 1500) scale(1.62)"><use href="#ciB"/></g>
<g id="lg-7" transform="translate(44 1543) scale(1.62)"><use href="#sqBII"/></g>
<g id="lg-8" transform="translate(80 1543) scale(1.62)"><use href="#ciBII"/></g>
<g id="lg-9" transform="translate(199 1419) scale(1.62)"><use href="#sqO"/></g>
<g id="lg-10" transform="translate(234 1419) scale(1.62)"><use href="#ciO"/></g>
<g id="lg-11" transform="translate(199 1458) scale(1.62)"><use href="#sqMD"/></g>
<g id="lg-12" transform="translate(234 1458) scale(1.62)"><use href="#ciMD"/></g>
<g id="lg-13" transform="translate(199 1500) scale(1.62)"><use href="#sqSE"/></g>
<g id="lg-14" transform="translate(234 1500) scale(1.62)"><use href="#ciSE"/></g>
<g id="lg-15" transform="translate(199 1541) scale(1.62)"><use href="#sqSA"/></g>
<g id="lg-16" transform="translate(234 1541) scale(1.62)"><use href="#ciSA"/></g>
<text class="lg" x="104" y="1425">UNK</text>
<text class="lg" x="104" y="1466">NMI</text>
<text class="lg" x="104" y="1508">BPI</text>
<text class="lg" x="104" y="1551">BPII</text>
<text class="lg" x="258" y="1429">OTH</text>
<text class="lg" x="257" y="1469">MDDR</text>
<text class="lg" x="260" y="1506">SEMD</text>
<text class="lg" x="258" y="1549">SA</text>
</g>
</svg>
